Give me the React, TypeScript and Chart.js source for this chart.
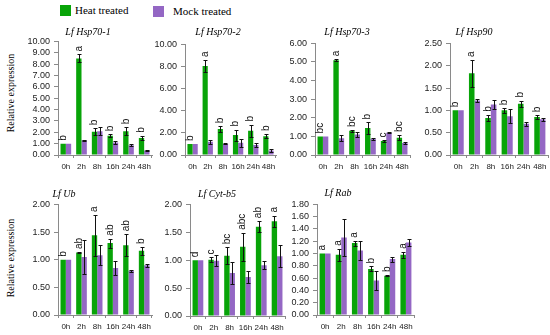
import React, { useEffect, useRef } from "react";
import { Chart, registerables } from "chart.js";
Chart.register(...registerables);

const timePoints = ["0h", "2h", "8h", "16h", "24h", "48h"];

// Lf Hsp70-1
const hsp701Heat = [1.0, 8.5, 2.05, 1.7, 2.1, 1.5];
const hsp701HeatErr = [0, 0.35, 0.3, 0.12, 0.35, 0.2];
const hsp701Mock = [1.0, 1.3, 2.1, 1.1, 0.85, 0.4];
const hsp701MockErr = [0, 0.04, 0.35, 0.1, 0.08, 0.08];
const hsp701Letters = ["b", "a", "b", "b", "b", "b"];

// Lf Hsp70-2
const hsp702Heat = [1.0, 8.05, 2.35, 1.8, 2.2, 1.7];
const hsp702HeatErr = [0, 0.55, 0.25, 0.5, 0.55, 0.2];
const hsp702Mock = [1.0, 1.2, 1.0, 1.1, 0.9, 0.4];
const hsp702MockErr = [0, 0.2, 0.05, 0.35, 0.15, 0.1];
const hsp702Letters = ["b", "a", "b", "b", "b", "b"];

// Lf Hsp70-3
const hsp703Heat = [1.0, 5.1, 1.3, 1.45, 0.75, 0.93];
const hsp703HeatErr = [0, 0.05, 0.05, 0.3, 0.03, 0.15];
const hsp703Mock = [1.0, 0.9, 1.1, 0.88, 1.2, 0.65];
const hsp703MockErr = [0, 0.15, 0.15, 0.05, 0.03, 0.06];
const hsp703Letters = ["bc", "a", "bc", "b", "c", "bc"];

// Lf Hsp90
const hsp90Heat = [1.0, 1.83, 0.83, 1.0, 1.15, 0.85];
const hsp90HeatErr = [0, 0.3, 0.07, 0.05, 0.07, 0.04];
const hsp90Mock = [1.0, 1.22, 1.13, 0.87, 0.7, 0.8];
const hsp90MockErr = [0, 0.03, 0.1, 0.15, 0.05, 0.04];
const hsp90Letters = ["b", "a", "b", "b", "b", "b"];

// Lf Ub
const ubHeat = [1.0, 1.13, 1.44, 1.3, 1.26, 1.16];
const ubHeatErr = [0, 0.01, 0.37, 0.08, 0.2, 0.07];
const ubMock = [1.0, 1.05, 1.08, 0.85, 0.8, 0.9];
const ubMockErr = [0, 0.3, 0.18, 0.13, 0.02, 0.03];
const ubLetters = ["b", "ab", "a", "ab", "ab", "b"];

// Lf Cyt-b5
const cytHeat = [1.0, 1.01, 1.08, 1.24, 1.6, 1.7];
const cytHeatErr = [0, 0.04, 0.15, 0.25, 0.1, 0.1];
const cytMock = [1.0, 0.99, 0.77, 0.7, 0.91, 1.07];
const cytMockErr = [0, 0.1, 0.2, 0.1, 0.07, 0.2];
const cytLetters = ["d", "c", "bc", "abc", "ab", "a"];

// Lf Rab
const rabHeat = [1.0, 0.98, 1.17, 0.75, 0.64, 0.98];
const rabHeatErr = [0, 0.1, 0.04, 0.04, 0.01, 0.05];
const rabMock = [1.0, 1.26, 1.05, 0.56, 0.91, 1.18];
const rabMockErr = [0, 0.3, 0.15, 0.15, 0.04, 0.05];
const rabLetters = ["a", "a", "a", "b", "b", "a"];

const GREEN = "#08a408";
const PURPLE = "#9467c4";
const AXIS = "#8a8a8a";
const Y_FONT = { family: "'Liberation Sans', Arial, sans-serif", size: 9 };
const X_FONT = { family: "'Liberation Sans', Arial, sans-serif", size: 8 };

const Y_W = 34;
const PAD_T = 8;
const PAD_R = 12;
const X_H = 18;

type PanelCfg = {
  gene: string;
  heat: number[]; heatErr: number[];
  mock: number[]; mockErr: number[];
  letters: string[];
  max: number; step: number;
  axisX: number; right: number; top: number; bottom: number;
  titleX: number; titleY: number;
};

const panels: PanelCfg[] = [
  { gene: "Hsp70-1", heat: hsp701Heat, heatErr: hsp701HeatErr, mock: hsp701Mock, mockErr: hsp701MockErr, letters: hsp701Letters, max: 10, step: 1, axisX: 58, right: 152, top: 40, bottom: 155, titleX: 88, titleY: 32 },
  { gene: "Hsp70-2", heat: hsp702Heat, heatErr: hsp702HeatErr, mock: hsp702Mock, mockErr: hsp702MockErr, letters: hsp702Letters, max: 10, step: 2, axisX: 185, right: 276, top: 43, bottom: 155, titleX: 218, titleY: 32 },
  { gene: "Hsp70-3", heat: hsp703Heat, heatErr: hsp703HeatErr, mock: hsp703Mock, mockErr: hsp703MockErr, letters: hsp703Letters, max: 6, step: 1, axisX: 315, right: 410, top: 42, bottom: 155, titleX: 347, titleY: 32 },
  { gene: "Hsp90", heat: hsp90Heat, heatErr: hsp90HeatErr, mock: hsp90Mock, mockErr: hsp90MockErr, letters: hsp90Letters, max: 2.5, step: 0.5, axisX: 450, right: 548, top: 42, bottom: 155, titleX: 474, titleY: 32 },
  { gene: "Ub", heat: ubHeat, heatErr: ubHeatErr, mock: ubMock, mockErr: ubMockErr, letters: ubLetters, max: 2, step: 0.5, axisX: 58, right: 152, top: 203, bottom: 315, titleX: 64, titleY: 194 },
  { gene: "Cyt-b5", heat: cytHeat, heatErr: cytHeatErr, mock: cytMock, mockErr: cytMockErr, letters: cytLetters, max: 2, step: 0.5, axisX: 190, right: 285, top: 203, bottom: 316, titleX: 217, titleY: 194 },
  { gene: "Rab", heat: rabHeat, heatErr: rabHeatErr, mock: rabMock, mockErr: rabMockErr, letters: rabLetters, max: 1.8, step: 0.2, axisX: 317, right: 414, top: 203, bottom: 315, titleX: 338, titleY: 193 },
];

function Panel({ cfg }: { cfg: PanelCfg }) {
  const ref = useRef<HTMLCanvasElement>(null);
  const w = Y_W + (cfg.right - cfg.axisX) + PAD_R;
  const h = PAD_T + (cfg.bottom - cfg.top) + X_H;

  useEffect(() => {
    const errPlugin = {
      id: "errbars",
      afterDatasetsDraw(chart: any) {
        const ctx = chart.ctx;
        const ys = chart.scales.y;
        const series: [number[], number[]][] = [[cfg.heat, cfg.heatErr], [cfg.mock, cfg.mockErr]];
        ctx.save();
        ctx.strokeStyle = "#111";
        ctx.lineWidth = 1;
        series.forEach(([vals, errs], di) => {
          const meta = chart.getDatasetMeta(di);
          meta.data.forEach((bar: any, i: number) => {
            const e = errs[i];
            if (!e) return;
            const x = Math.round(bar.x) + 0.5;
            const y1 = Math.round(ys.getPixelForValue(vals[i] + e)) + 0.5;
            const y2 = Math.round(ys.getPixelForValue(vals[i] - e)) + 0.5;
            ctx.beginPath();
            ctx.moveTo(x, y1); ctx.lineTo(x, y2);
            ctx.moveTo(x - 2, y1); ctx.lineTo(x + 2, y1);
            ctx.moveTo(x - 2, y2); ctx.lineTo(x + 2, y2);
            ctx.stroke();
          });
        });
        const heatMeta = chart.getDatasetMeta(0);
        ctx.fillStyle = "#111";
        ctx.font = "10px 'Liberation Sans', Arial, sans-serif";
        ctx.textAlign = "left";
        ctx.textBaseline = "middle";
        heatMeta.data.forEach((bar: any, i: number) => {
          const topv = cfg.heat[i] + cfg.heatErr[i];
          const py = ys.getPixelForValue(topv) - 3;
          ctx.save();
          ctx.translate(bar.x, py);
          ctx.rotate(-Math.PI / 2);
          ctx.fillText(cfg.letters[i], 0, 0);
          ctx.restore();
        });
        ctx.restore();
      },
    };

    const chart = new Chart(ref.current as HTMLCanvasElement, {
      type: "bar",
      data: {
        labels: timePoints,
        datasets: [
          { label: "Heat treated", data: cfg.heat, backgroundColor: GREEN },
          { label: "Mock treated", data: cfg.mock, backgroundColor: PURPLE },
        ],
      },
      options: {
        responsive: false,
        animation: false,
        devicePixelRatio: 1,
        layout: { padding: { top: PAD_T, right: PAD_R, left: 0, bottom: 0 } },
        plugins: { legend: { display: false }, tooltip: { enabled: false } },
        datasets: { bar: { categoryPercentage: 0.68, barPercentage: 1 } },
        scales: {
          x: {
            grid: { display: true, drawOnChartArea: false, drawTicks: true, tickLength: 3, color: AXIS, offset: true },
            border: { color: AXIS },
            ticks: { font: X_FONT, color: "#222", padding: 4, maxRotation: 0, autoSkip: false },
            afterFit: (s: any) => { s.height = X_H; },
          },
          y: {
            min: 0,
            max: cfg.max,
            ticks: { stepSize: cfg.step, autoSkip: false, font: Y_FONT, color: "#222", padding: 4, callback: (v: any) => Number(v).toFixed(2) },
            grid: { drawOnChartArea: false, drawTicks: true, tickLength: 4, color: AXIS },
            border: { color: AXIS },
            afterFit: (s: any) => { s.width = Y_W; },
          },
        },
      } as any,
      plugins: [errPlugin],
    });
    return () => chart.destroy();
  }, []);

  return (
    <>
      <canvas
        ref={ref}
        width={w}
        height={h}
        style={{ position: "absolute", left: cfg.axisX - Y_W, top: cfg.top - PAD_T, width: w, height: h }}
      />
      <div
        style={{
          position: "absolute",
          left: cfg.titleX - 60,
          width: 120,
          top: cfg.titleY - 7,
          textAlign: "center",
          fontFamily: "'Liberation Serif', 'Times New Roman', serif",
          fontStyle: "italic",
          fontSize: 10,
          lineHeight: "14px",
          whiteSpace: "nowrap",
        }}
      >
        Lf {cfg.gene}
      </div>
    </>
  );
}

const serif = "'Liberation Serif', 'Times New Roman', serif";

export default function App() {
  return (
    <div style={{ position: "absolute", left: 0, top: 0, width: 550, height: 335, background: "#fff", overflow: "hidden" }}>
      <div style={{ position: "absolute", left: 60, top: 5, width: 11, height: 11, background: GREEN }} />
      <div style={{ position: "absolute", left: 75, top: 3, fontFamily: serif, fontSize: 11, lineHeight: "14px", whiteSpace: "nowrap" }}>Heat treated</div>
      <div style={{ position: "absolute", left: 153, top: 6, width: 11, height: 11, background: PURPLE }} />
      <div style={{ position: "absolute", left: 173, top: 4, fontFamily: serif, fontSize: 11, lineHeight: "14px", whiteSpace: "nowrap" }}>Mock treated</div>

      {["93", "258"].map((cy) => (
        <div
          key={cy}
          style={{
            position: "absolute",
            left: 11 - 60,
            top: Number(cy) - 7,
            width: 120,
            height: 14,
            lineHeight: "14px",
            textAlign: "center",
            transform: "rotate(-90deg)",
            fontFamily: serif,
            fontSize: 10,
            whiteSpace: "nowrap",
          }}
        >
          Relative expression
        </div>
      ))}

      {panels.map((p) => (
        <Panel key={p.gene} cfg={p} />
      ))}
    </div>
  );
}
